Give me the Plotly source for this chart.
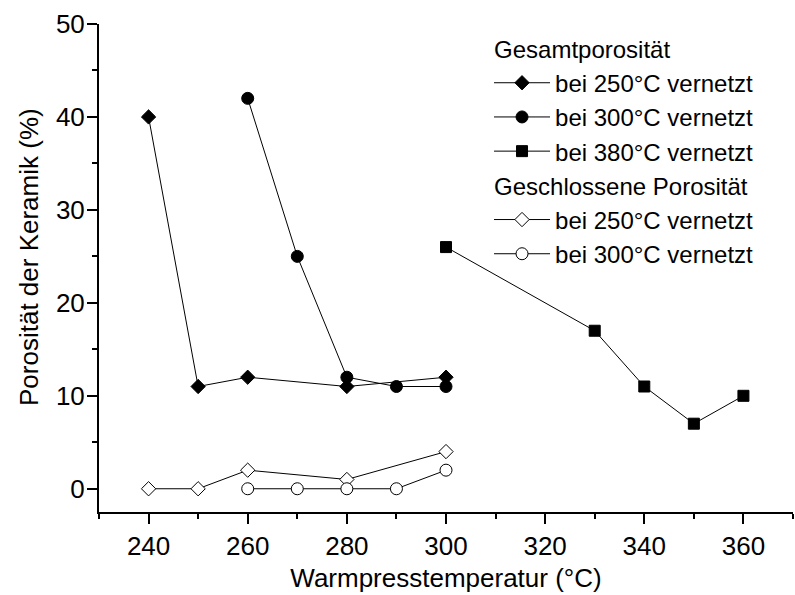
import plotly.graph_objects as go

# ---- data ----
x_ges250 = [240, 250, 260, 280, 300]
y_ges250 = [40, 11, 12, 11, 12]
x_ges300 = [260, 270, 280, 290, 300]
y_ges300 = [42, 25, 12, 11, 11]
x_ges380 = [300, 330, 340, 350, 360]
y_ges380 = [26, 17, 11, 7, 10]
x_geschl250 = [240, 250, 260, 280, 300]
y_geschl250 = [0, 0, 2, 1, 4]
x_geschl300 = [260, 270, 280, 290, 300]
y_geschl300 = [0, 0, 0, 0, 2]

x_ticks = [240, 260, 280, 300, 320, 340, 360]
y_ticks = [0, 10, 20, 30, 40, 50]

FONT = "Liberation Sans, Arial, sans-serif"
LEG_SIZE = 24
LINE = dict(color="black", width=1)

fig = go.Figure()

def add(x, y, name, symbol, size, fill, group, gtitle):
    fig.add_trace(go.Scatter(
        x=x, y=y, mode="lines+markers", name=name,
        line=LINE,
        marker=dict(symbol=symbol, size=size, color=fill,
                    line=dict(color="black", width=1)),
        legendgroup=group,
        legendgrouptitle=dict(text=gtitle, font=dict(size=LEG_SIZE, color="black", family=FONT)),
    ))

add(x_ges250, y_ges250, "bei 250°C vernetzt", "diamond", 11, "black", "g", "Gesamtporosität")
add(x_ges300, y_ges300, "bei 300°C vernetzt", "circle", 12, "black", "g", "Gesamtporosität")
add(x_ges380, y_ges380, "bei 380°C vernetzt", "square", 11, "black", "g", "Gesamtporosität")
add(x_geschl250, y_geschl250, "bei 250°C vernetzt", "diamond", 11, "white", "c", "Geschlossene Porosität")
add(x_geschl300, y_geschl300, "bei 300°C vernetzt", "circle", 12, "white", "c", "Geschlossene Porosität")

axis_common = dict(showgrid=False, zeroline=False, showline=True, linecolor="black",
                   linewidth=2, tickcolor="black", tickwidth=2)

fig.update_layout(
    width=795, height=595,
    margin=dict(l=99, r=2, t=24, b=83),
    paper_bgcolor="white", plot_bgcolor="white",
    font=dict(family=FONT, size=26, color="black"),
    xaxis=dict(range=[230, 370], tickvals=x_ticks, ticks="outside", ticklen=10,
               minor=dict(dtick=10, tick0=230, ticks="outside", ticklen=5,
                          tickwidth=2, tickcolor="black"),
               title=dict(text="Warmpresstemperatur (°C)", standoff=9,
                          font=dict(size=26)),
               tickfont=dict(size=26), **axis_common),
    yaxis=dict(range=[-2.5, 50], tickvals=y_ticks, ticks="outside", ticklen=10,
               ticklabelstandoff=-3,
               minor=dict(dtick=5, tick0=0, ticks="outside", ticklen=5,
                          tickwidth=2, tickcolor="black"),
               title=dict(text="<span>\u00a0\u00a0\u00a0</span>Porosität der Keramik (%)", standoff=10,
                          font=dict(size=26)),
               tickfont=dict(size=26), **axis_common),
    xaxis2=dict(range=[230, 370], overlaying="x", side="top", anchor="y",
                tickvals=x_ticks, ticks="inside", ticklen=10, showticklabels=False,
                minor=dict(dtick=10, tick0=230, ticks="inside", ticklen=5,
                           tickwidth=2, tickcolor="black"),
                **axis_common),
    yaxis2=dict(range=[-2.5, 50], overlaying="y", side="right", anchor="x",
                tickvals=y_ticks, ticks="inside", ticklen=10, showticklabels=False,
                minor=dict(dtick=5, tick0=0, ticks="inside", ticklen=5,
                           tickwidth=2, tickcolor="black"),
                **axis_common),
    legend=dict(x=0.562, y=0.995, xanchor="left", yanchor="top",
                bgcolor="rgba(0,0,0,0)", borderwidth=0,
                font=dict(size=LEG_SIZE, family=FONT, color="black"),
                traceorder="grouped", tracegroupgap=0, itemwidth=56),
    showlegend=True,
)

fig.write_html("out.html")
